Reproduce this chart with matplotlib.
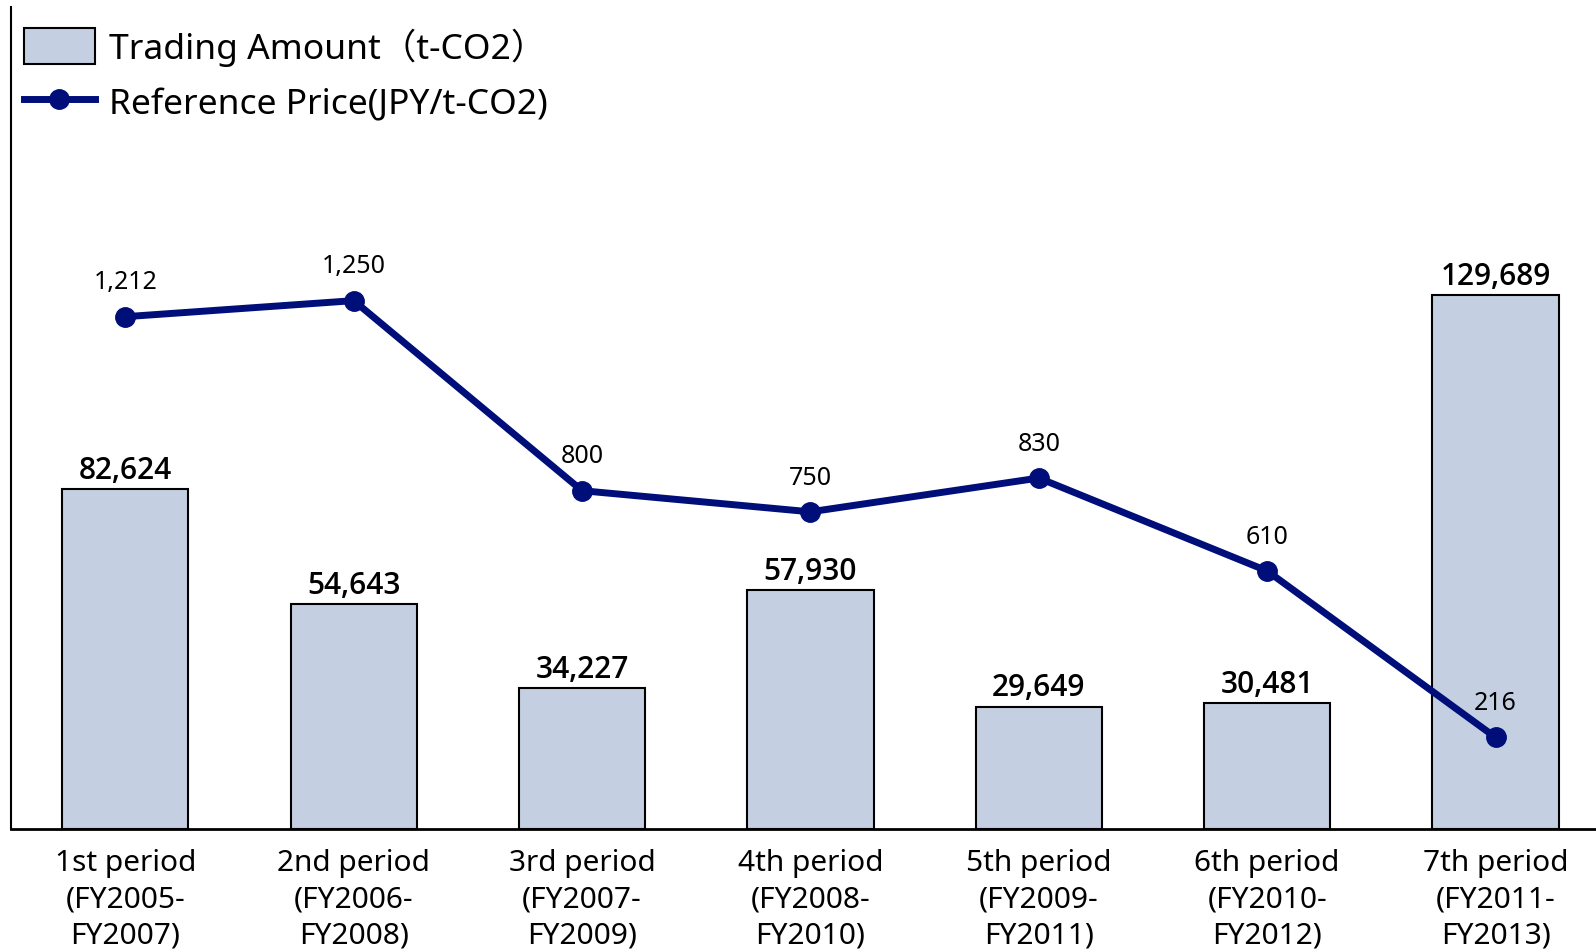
import matplotlib.pyplot as plt
from matplotlib.patches import Patch
from matplotlib.lines import Line2D

plt.rcParams['font.family'] = ['Noto Sans', 'DejaVu Sans']

periods = ["1st period\n(FY2005-\nFY2007)", "2nd period\n(FY2006-\nFY2008)",
           "3rd period\n(FY2007-\nFY2009)", "4th period\n(FY2008-\nFY2010)",
           "5th period\n(FY2009-\nFY2011)", "6th period\n(FY2010-\nFY2012)",
           "7th period\n(FY2011-\nFY2013)"]
trading_amount = [82624, 54643, 34227, 57930, 29649, 30481, 129689]
ref_price = [1212, 1250, 800, 750, 830, 610, 216]

bar_color = '#c4cfe1'
line_color = '#000e7a'

fig = plt.figure(figsize=(15.96, 9.53), dpi=100)
ax1 = fig.add_axes([0.007, 0.1295, 0.993, 0.862])
x = list(range(len(periods)))

bars = ax1.bar(x, trading_amount, width=0.553, color=bar_color, edgecolor='black', linewidth=1.5)
for xi, v in zip(x, trading_amount):
    ax1.annotate(f"{v:,}", (xi, v), xytext=(0, 3), textcoords='offset points',
                 ha='center', va='bottom', fontsize=21.5, fontweight='semibold', family='Open Sans')

ax1.set_xlim(-0.5, 6.44)
ax1.set_ylim(0, 199700)
ax1.set_xticks(x)
ax1.set_xticklabels(periods, fontsize=21.5, linespacing=1.32)
ax1.tick_params(axis='x', length=0, pad=14)
ax1.set_yticks([])
for s in ['top', 'right']:
    ax1.spines[s].set_visible(False)
ax1.spines['left'].set_linewidth(1.5)
ax1.spines['bottom'].set_linewidth(2)

ax2 = ax1.twinx()
ax2.plot(x, ref_price, color=line_color, linewidth=5, marker='o', markersize=14)
for xi, v in zip(x, ref_price):
    ax2.annotate(f"{v:,}", (xi, v), xytext=(0, 25), textcoords='offset points',
                 ha='center', va='center', fontsize=18)
ax2.set_ylim(0, 1945)
ax2.set_yticks([])
for s in ['top', 'right', 'left', 'bottom']:
    ax2.spines[s].set_visible(False)

handles = [Patch(facecolor=bar_color, edgecolor='black', linewidth=1.5),
           Line2D([], [], color=line_color, linewidth=5, marker='o', markersize=14)]
labels = ["Trading Amount\uff08t-CO2\uff09", "Reference Price(JPY/t-CO2)"]
ax1.legend(handles, labels, loc='upper left', bbox_to_anchor=(0.008, 0.975), frameon=False,
           handlelength=2.0, handleheight=1.2, handletextpad=0.4,
           labelspacing=0.5, borderaxespad=0, borderpad=0,
           prop={'family': ['Noto Sans', 'Noto Sans CJK JP'], 'size': 25.5})

fig.savefig('out.png', dpi=100)
